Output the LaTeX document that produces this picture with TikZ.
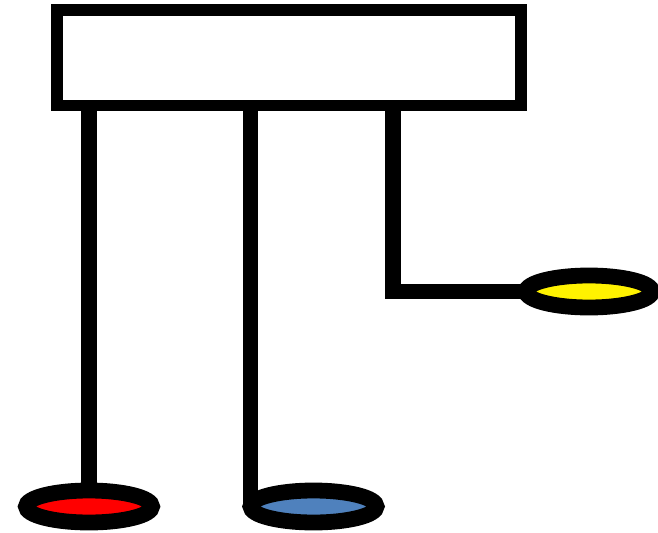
\documentclass[tikz,border=0pt]{standalone}
\usepackage{tikz}
\usetikzlibrary{shapes.geometric}

\definecolor{pinblue}{RGB}{79,129,189}

\tikzset{
  topbox/.style={draw,line width=6.8pt,rectangle,inner sep=0pt,outer sep=0pt,minimum width=9.28cm,minimum height=1.91cm},
  pad/.style={draw,line width=9pt,ellipse,inner sep=0pt,outer sep=0pt,minimum width=2.52cm,minimum height=0.64cm},
  wire/.style={line width=9pt}
}

\begin{document}
\begin{tikzpicture}[x=0.02cm,y=-0.02cm]
\useasboundingbox (0,0) rectangle (658,533);

\node[topbox] (box) at (289,57.75) {};

\node[pad,fill=red] (R) at (89,506.5) {};
\node[pad,fill=pinblue] (B) at (313.5,506.5) {};
\node[pad,fill=yellow] (Y) at (589,291.5) {};

\coordinate (bend) at (393,291.5);

\draw[wire] (R.north |- box.south) -- (R.north);
\draw[wire] (B.west |- box.south) -- (B.west);
\draw[wire] (bend |- box.south) -- (bend) -- (Y.west);

\end{tikzpicture}
\end{document}
